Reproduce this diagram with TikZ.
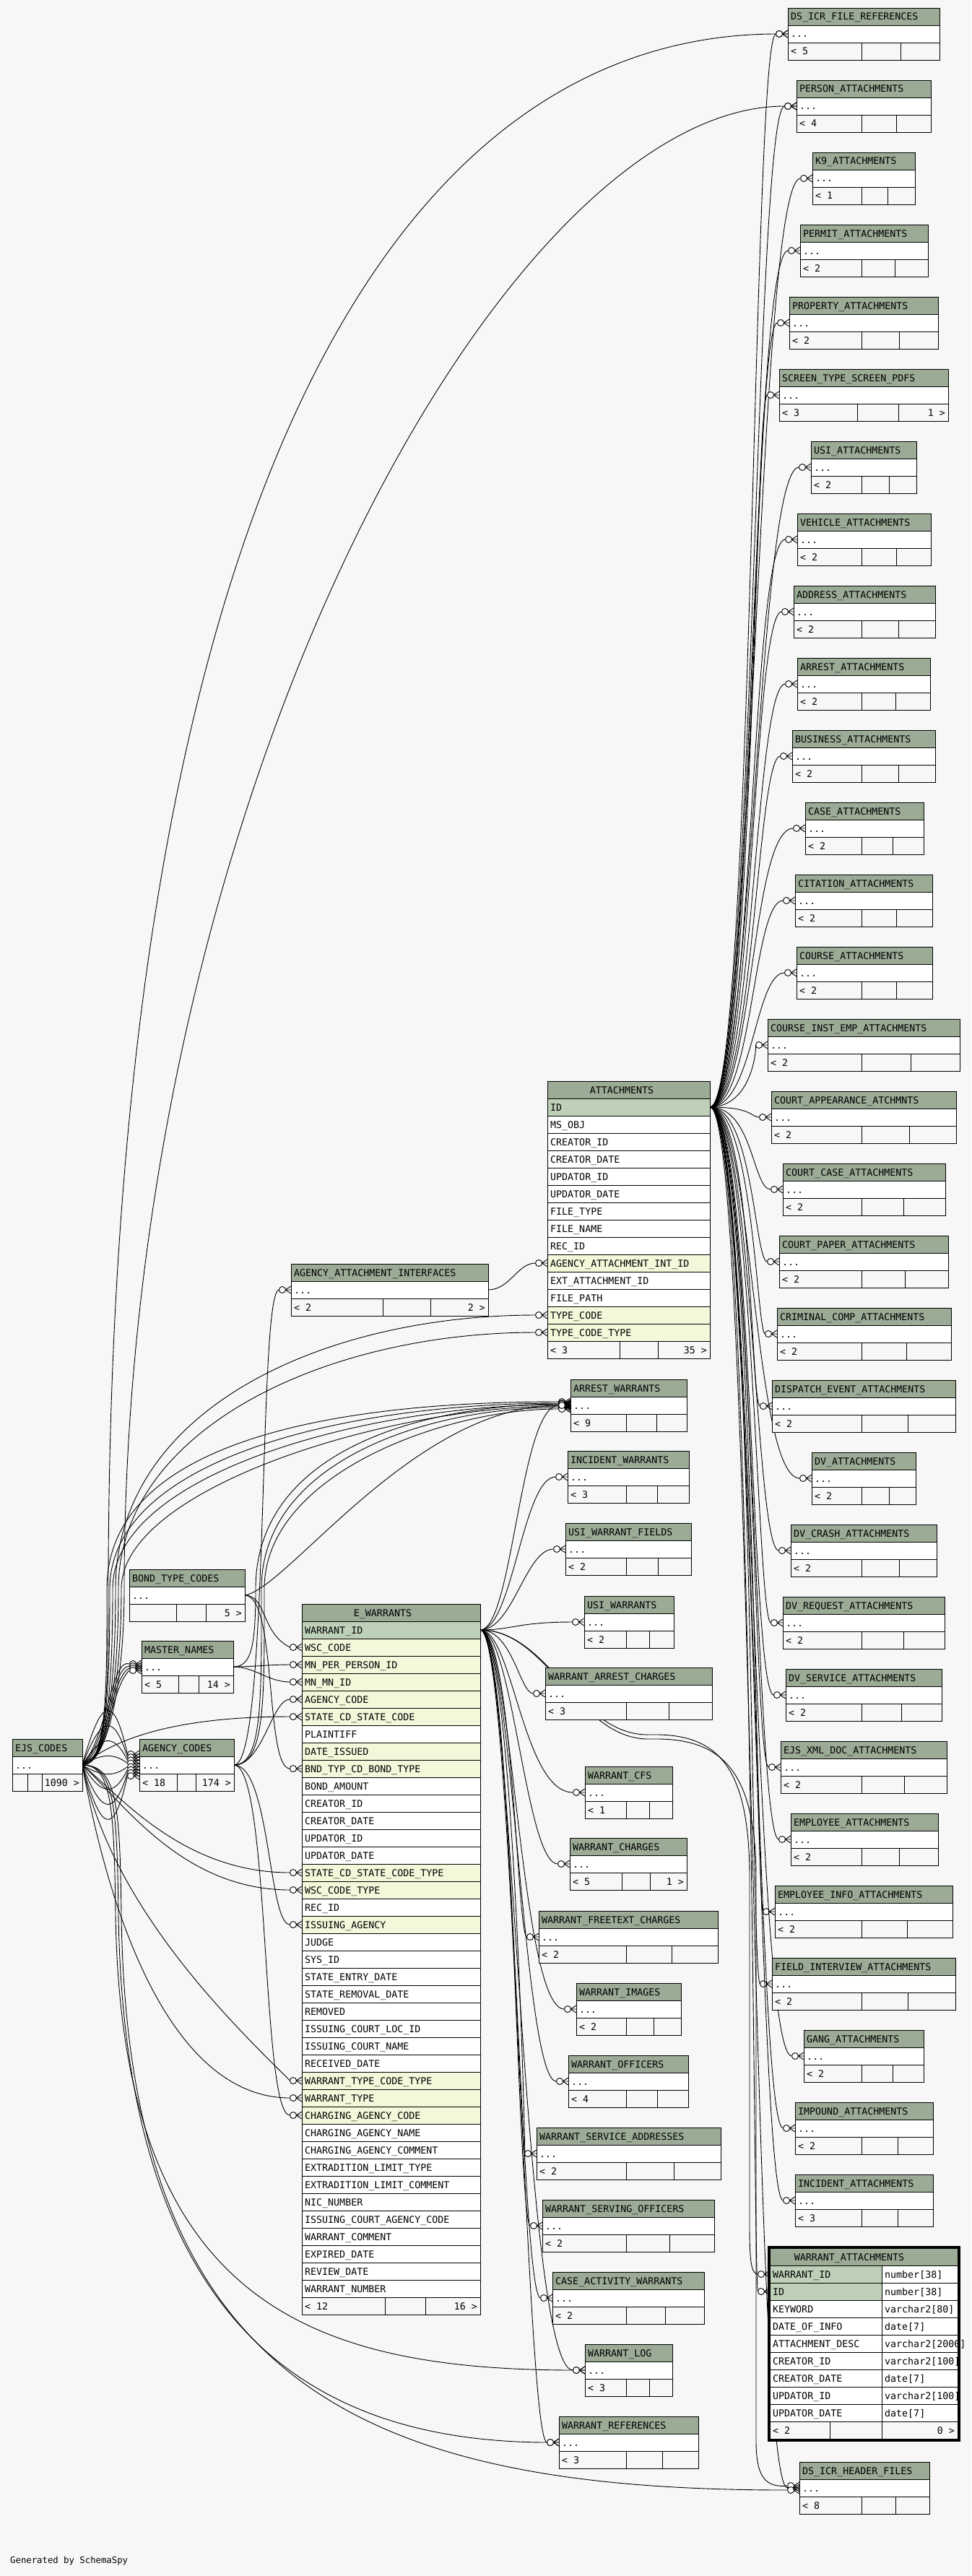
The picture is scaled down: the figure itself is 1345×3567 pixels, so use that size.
\documentclass[tikz,border=0pt]{standalone}
\usepackage{fontspec}
\newfontfamily\mono{DejaVu Sans Mono}
\usetikzlibrary{calc}
\pgfdeclarelayer{back}
\pgfdeclarelayer{edges}
\pgfsetlayers{back,edges,main}
\definecolor{bgc}{HTML}{F7F7F7}
\definecolor{hdrc}{HTML}{9BAB96}
\definecolor{pkc}{HTML}{BED1B8}
\definecolor{fkc}{HTML}{F4F7DA}
\catcode`\_=12
\tikzset{
 box/.style={draw, line width=0.9pt, inner sep=0pt, outer sep=0pt, minimum height=24pt, anchor=north west},
 lbl/.style={font=\mono\fontsize{13.3}{14}\selectfont, inner sep=0pt, anchor=base west},
 lblr/.style={lbl, anchor=base east},
 lblc/.style={lbl, anchor=base},
 ln/.style={line width=0.9pt},
}
% compact table: id, left, top, right, title, col1, col2, left footer, right footer
\newcommand\ctab[9]{%
 \pgfmathsetmacro\tw{#4-#2}%
 \node[box, fill=hdrc, minimum width=\tw pt] (#1-h) at (#2,#3) {};
 \node[box, fill=white, minimum width=\tw pt] (#1) at (#2,#3+24) {};
 \node[box, fill=bgc, minimum width=\tw pt] (#1-f) at (#2,#3+48) {};
 \draw[ln] (#6,#3+48) -- (#6,#3+72) (#7,#3+48) -- (#7,#3+72);
 \node[lbl] at (#2+4,#3+17) {#5};
 \node[lbl] at (#2+4,#3+41) {...};
 \node[lbl] at (#2+4,#3+65) {#8};
 \node[lblr] at (#4-4,#3+65) {#9};
}
% full table row: id, left, top, width, fill, text
\newcommand\frow[6]{%
 \node[box, fill=#5, minimum width=#4pt] (#1) at (#2,#3) {};
 \node[lbl] at (#2+4,#3+17) {#6};
}
% crow's foot with open circle at child row
\newcommand\mk[2][0]{%
 \begin{scope}[shift={([yshift=#1pt]#2.west)}]
  \draw[ln] (0,-5) -- (-8,0) -- (0,5) (0,0) -- (-8,0);
  \draw[ln, fill=white] (-12,0) circle[radius=4.5pt];
 \end{scope}}
% connector: [dy] parent-anchor, child, control1, control2
\newcommand\conn[5][0]{%
 \draw[ln] (#2) .. controls #4 and #5 .. ([xshift=-16.5pt,yshift=#1pt]#3.west);
 \mk[#1]{#3}}
% connector through the vertical bundle left of the code tables:
% [dy] parent, child, bundle x, ctrl y, ctrl2
\newcommand\lconn[6][0]{%
 \draw[ln] (#2) .. controls +(35,0) and (#4,2330) .. (#4,2200) .. controls (#4,#5) and #6 .. ([xshift=-16.5pt,yshift=#1pt]#3.west);
 \mk[#1]{#3}}
\begin{document}
\begin{tikzpicture}[x=1pt,y=-1pt]
\begin{pgfonlayer}{back}
\fill[bgc] (0,0) rectangle (1345,3567);
\end{pgfonlayer}
\useasboundingbox (0,0) rectangle (1345,3567);
\coordinate (busR) at (1043,0);
\coordinate (busM) at (722,0);

% ---------- right column ----------
\ctab{dsfr}{1091}{11}{1301}{DS_ICR_FILE_REFERENCES}{1193}{1247}{< 5}{}
\ctab{person}{1103}{111}{1289}{PERSON_ATTACHMENTS}{1193}{1241}{< 4}{}
\ctab{k9}{1125}{211}{1267}{K9_ATTACHMENTS}{1193}{1229}{< 1}{}
\ctab{permit}{1108}{311}{1285}{PERMIT_ATTACHMENTS}{1193}{1239}{< 2}{}
\ctab{property}{1093}{411}{1299}{PROPERTY_ATTACHMENTS}{1193}{1245}{< 2}{}
\ctab{screen}{1079}{511}{1313}{SCREEN_TYPE_SCREEN_PDFS}{1187}{1244}{< 3}{1 >}
\ctab{usia}{1123}{611}{1269}{USI_ATTACHMENTS}{1193}{1231}{< 2}{}
\ctab{vehicle}{1104}{711}{1289}{VEHICLE_ATTACHMENTS}{1193}{1241}{< 2}{}
\ctab{address}{1099}{811}{1295}{ADDRESS_ATTACHMENTS}{1193}{1244}{< 2}{}
\ctab{arrest}{1104}{911}{1288}{ARREST_ATTACHMENTS}{1193}{1240}{< 2}{}
\ctab{business}{1097}{1011}{1295}{BUSINESS_ATTACHMENTS}{1193}{1244}{< 2}{}
\ctab{casea}{1115}{1111}{1279}{CASE_ATTACHMENTS}{1193}{1236}{< 2}{}
\ctab{citation}{1101}{1211}{1291}{CITATION_ATTACHMENTS}{1193}{1241}{< 2}{}
\ctab{course}{1103}{1311}{1291}{COURSE_ATTACHMENTS}{1193}{1241}{< 2}{}
\ctab{courseinst}{1063}{1411}{1329}{COURSE_INST_EMP_ATTACHMENTS}{1193}{1261}{< 2}{}
\ctab{courtapp}{1068}{1511}{1324}{COURT_APPEARANCE_ATCHMNTS}{1193}{1259}{< 2}{}
\ctab{courtcase}{1084}{1611}{1309}{COURT_CASE_ATTACHMENTS}{1193}{1251}{< 2}{}
\ctab{courtpaper}{1079}{1711}{1313}{COURT_PAPER_ATTACHMENTS}{1193}{1253}{< 2}{}
\ctab{criminal}{1076}{1811}{1317}{CRIMINAL_COMP_ATTACHMENTS}{1193}{1255}{< 2}{}
\ctab{dispatch}{1069}{1911}{1323}{DISPATCH_EVENT_ATTACHMENTS}{1193}{1257}{< 2}{}
\ctab{dv}{1124}{2011}{1268}{DV_ATTACHMENTS}{1193}{1231}{< 2}{}
\ctab{dvcrash}{1095}{2111}{1297}{DV_CRASH_ATTACHMENTS}{1193}{1245}{< 2}{}
\ctab{dvreq}{1084}{2211}{1308}{DV_REQUEST_ATTACHMENTS}{1193}{1251}{< 2}{}
\ctab{dvserv}{1088}{2311}{1304}{DV_SERVICE_ATTACHMENTS}{1193}{1248}{< 2}{}
\ctab{ejsxml}{1081}{2411}{1311}{EJS_XML_DOC_ATTACHMENTS}{1193}{1252}{< 2}{}
\ctab{employee}{1095}{2511}{1299}{EMPLOYEE_ATTACHMENTS}{1193}{1245}{< 2}{}
\ctab{empinfo}{1073}{2611}{1319}{EMPLOYEE_INFO_ATTACHMENTS}{1193}{1256}{< 2}{}
\ctab{field}{1069}{2711}{1323}{FIELD_INTERVIEW_ATTACHMENTS}{1193}{1257}{< 2}{}
\ctab{gang}{1113}{2811}{1279}{GANG_ATTACHMENTS}{1193}{1236}{< 2}{}
\ctab{impound}{1101}{2911}{1292}{IMPOUND_ATTACHMENTS}{1193}{1243}{< 2}{}
\ctab{incident}{1101}{3011}{1292}{INCIDENT_ATTACHMENTS}{1193}{1243}{< 3}{}
\ctab{dshf}{1107}{3409}{1287}{DS_ICR_HEADER_FILES}{1193}{1240}{< 8}{}

% ---------- WARRANT_ATTACHMENTS (focus table) ----------
\node[box, fill=hdrc, minimum width=260pt] (wa-h) at (1066,3113) {};
\node[lblc] at (1176,3130) {WARRANT_ATTACHMENTS};
\foreach[count=\i] \rc/\rt/\ty in {pkc/WARRANT_ID/number[38], pkc/ID/number[38], white/KEYWORD/varchar2[80], white/DATE_OF_INFO/date[7], white/ATTACHMENT_DESC/varchar2[2000], white/CREATOR_ID/varchar2[100], white/CREATOR_DATE/date[7], white/UPDATOR_ID/varchar2[100], white/UPDATOR_DATE/date[7]}
 {\frow{wa-\i}{1066}{3113+24*\i}{155}{\rc}{\rt}
  \frow{wa-t\i}{1221}{3113+24*\i}{105}{white}{\ty}}
\node[box, fill=bgc, minimum width=260pt] (wa-f) at (1066,3353) {};
\draw[ln] (1149,3353) -- (1149,3377) (1221,3353) -- (1221,3377);
\node[lbl] at (1070,3370) {< 2};
\node[lblr] at (1322,3370) {0 >};
\draw[line width=3.5pt] (1064.25,3111.25) rectangle (1327.75,3378.75);

% ---------- ATTACHMENTS ----------
\node[box, fill=hdrc, minimum width=225pt] (att-h) at (758,1497) {};
\node[lblc] at (861,1514) {ATTACHMENTS};
\foreach[count=\i] \rc/\rt in {pkc/ID, white/MS_OBJ, white/CREATOR_ID, white/CREATOR_DATE, white/UPDATOR_ID, white/UPDATOR_DATE, white/FILE_TYPE, white/FILE_NAME, white/REC_ID, fkc/AGENCY_ATTACHMENT_INT_ID, white/EXT_ATTACHMENT_ID, white/FILE_PATH, fkc/TYPE_CODE, fkc/TYPE_CODE_TYPE}
 {\frow{att-\i}{758}{1497+24*\i}{225}{\rc}{\rt}}
\node[box, fill=bgc, minimum width=225pt] (att-f) at (758,1857) {};
\draw[ln] (858,1857) -- (858,1881) (911,1857) -- (911,1881);
\node[lbl] at (762,1874) {< 3};
\node[lblr] at (979,1874) {35 >};

% ---------- E_WARRANTS ----------
\node[box, fill=hdrc, minimum width=247pt] (ew-h) at (418,2221) {};
\node[lblc] at (530,2238) {E_WARRANTS};
\foreach[count=\i] \rc/\rt in {pkc/WARRANT_ID, fkc/WSC_CODE, fkc/MN_PER_PERSON_ID, fkc/MN_MN_ID, fkc/AGENCY_CODE, fkc/STATE_CD_STATE_CODE, white/PLAINTIFF, fkc/DATE_ISSUED, fkc/BND_TYP_CD_BOND_TYPE, white/BOND_AMOUNT, white/CREATOR_ID, white/CREATOR_DATE, white/UPDATOR_ID, white/UPDATOR_DATE, fkc/STATE_CD_STATE_CODE_TYPE, fkc/WSC_CODE_TYPE, white/REC_ID, fkc/ISSUING_AGENCY, white/JUDGE, white/SYS_ID, white/STATE_ENTRY_DATE, white/STATE_REMOVAL_DATE, white/REMOVED, white/ISSUING_COURT_LOC_ID, white/ISSUING_COURT_NAME, white/RECEIVED_DATE, fkc/WARRANT_TYPE_CODE_TYPE, fkc/WARRANT_TYPE, fkc/CHARGING_AGENCY_CODE, white/CHARGING_AGENCY_NAME, white/CHARGING_AGENCY_COMMENT, white/EXTRADITION_LIMIT_TYPE, white/EXTRADITION_LIMIT_COMMENT, white/NIC_NUMBER, white/ISSUING_COURT_AGENCY_CODE, white/WARRANT_COMMENT, white/EXPIRED_DATE, white/REVIEW_DATE, white/WARRANT_NUMBER}
 {\frow{ew-\i}{418}{2221+24*\i}{247}{\rc}{\rt}}
\node[box, fill=bgc, minimum width=247pt] (ew-f) at (418,3181) {};
\draw[ln] (533,3181) -- (533,3205) (589,3181) -- (589,3205);
\node[lbl] at (422,3198) {< 12};
\node[lblr] at (661,3198) {16 >};

% ---------- middle column ----------
\ctab{aai}{403}{1750}{676}{AGENCY_ATTACHMENT_INTERFACES}{530}{596}{< 2}{2 >}
\ctab{aw}{790}{1910}{951}{ARREST_WARRANTS}{867}{909}{< 9}{}
\ctab{iw}{786}{2009}{954}{INCIDENT_WARRANTS}{867}{910}{< 3}{}
\ctab{uwf}{783}{2109}{957}{USI_WARRANT_FIELDS}{867}{911}{< 2}{}
\ctab{uw}{809}{2210}{933}{USI_WARRANTS}{867}{899}{< 2}{}
\ctab{wac}{755}{2309}{986}{WARRANT_ARREST_CHARGES}{867}{926}{< 3}{}
\ctab{wcfs}{810}{2446}{931}{WARRANT_CFS}{867}{899}{< 1}{}
\ctab{wch}{789}{2545}{951}{WARRANT_CHARGES}{861}{900}{< 5}{1 >}
\ctab{wfc}{746}{2646}{994}{WARRANT_FREETEXT_CHARGES}{867}{930}{< 2}{}
\ctab{wi}{798}{2746}{943}{WARRANT_IMAGES}{867}{905}{< 2}{}
\ctab{wo}{787}{2846}{953}{WARRANT_OFFICERS}{867}{910}{< 4}{}
\ctab{wsa}{743}{2946}{998}{WARRANT_SERVICE_ADDRESSES}{867}{933}{< 2}{}
\ctab{wso}{751}{3046}{989}{WARRANT_SERVING_OFFICERS}{867}{927}{< 2}{}
\ctab{caw}{765}{3146}{975}{CASE_ACTIVITY_WARRANTS}{867}{921}{< 2}{}
\ctab{wl}{810}{3246}{931}{WARRANT_LOG}{867}{899}{< 3}{}
\ctab{wr}{774}{3346}{967}{WARRANT_REFERENCES}{867}{917}{< 3}{}

% ---------- left column ----------
\ctab{btc}{179}{2173}{339}{BOND_TYPE_CODES}{244}{285}{}{5 >}
\ctab{mn}{196}{2272}{323}{MASTER_NAMES}{247}{275}{< 5}{14 >}
\ctab{ejs}{17}{2408}{114}{EJS_CODES}{38}{58}{}{1090 >}
\ctab{agc}{193}{2408}{324}{AGENCY_CODES}{245}{271}{< 18}{174 >}

\node[lbl, font=\mono\fontsize{12.3}{13}\selectfont] (gen) at (14,3549) {Generated by SchemaSpy};

% ---------- connectors ----------
\begin{pgfonlayer}{edges}
% ATTACHMENTS.ID children
\foreach[count=\i] \c in {dsfr,person,k9,permit,property,screen,usia,vehicle,address,arrest,business,casea,citation,course,courseinst,courtapp,courtcase,courtpaper,criminal,dispatch,dv,dvcrash,dvreq,dvserv,ejsxml,employee,empinfo,field,gang,impound,incident,dshf}
 {\pgfmathsetmacro\ox{mod(\i,4)*3-4}\conn{att-1.east}{\c}{+(60,0)}{([xshift=\ox pt]\c.west -| busR)}}
\conn{att-1.east}{wa-2}{+(60,0)}{(wa-2.west -| busR)}
% E_WARRANTS.WARRANT_ID children
\foreach[count=\i] \c in {aw,iw,uwf,uw,wac,wcfs,wch,wfc,wi,wo,wsa,wso,caw,wl,wr}
 {\pgfmathsetmacro\ox{mod(\i,4)*4-6}\conn{ew-1.east}{\c}{+(45,0)}{([xshift=\ox pt]\c.west -| busM)}}
\draw[ln] (ew-1.east) .. controls (760,2257) and (800,2405) .. (900,2402) .. controls (990,2400) and (1038,2440) .. (1038,2600) -- (1038,3080) .. controls (1038,3130) and (1040,3149) .. ([xshift=-16.5pt]wa-1.west);
\mk{wa-1}
\draw[ln] (ew-1.east) .. controls (760,2257) and (800,2410) .. (900,2408) .. controls (990,2406) and (1047,2440) .. (1047,2600) -- (1047,3380) .. controls (1047,3430) and (1060,3445) .. ([xshift=-16.5pt,yshift=3pt]dshf.west);
\mk[3]{dshf}
% EJS_CODES -> AGENCY_CODES
\foreach \k in {-90,-65,-40,-15,15,40,65,90}
 {\pgfmathsetmacro\dy{-\k/6}\conn[\dy]{ejs.east}{agc}{+(25,\k)}{+(-20,\k)}}
% EJS_CODES -> MASTER_NAMES
\foreach \k/\dy in {-10/4,0/1,10/-2,20/-5}
 {\conn[\dy]{ejs.east}{mn}{+(35,\k-30)}{+(-25,\k)}}
% EJS_CODES -> E_WARRANTS
\conn{ejs.east}{ew-6}{+(50,-40)}{+(-150,0)}
\conn{ejs.east}{ew-15}{+(50,40)}{+(-150,0)}
\conn{ejs.east}{ew-16}{+(55,50)}{+(-150,0)}
\conn{ejs.east}{ew-27}{+(40,200)}{+(-70,-70)}
\conn{ejs.east}{ew-28}{+(45,250)}{+(-150,0)}
% EJS_CODES -> ATTACHMENTS, through the left bundle
\lconn{ejs.east}{att-13}{160}{1950}{(450,1821)}
\lconn{ejs.east}{att-14}{164}{1980}{(450,1845)}
% -> ARREST_WARRANTS
\lconn[5]{ejs.east}{aw}{148}{2000}{(450,1941)}
\lconn[3]{ejs.east}{aw}{152}{2020}{(480,1943)}
\lconn[1]{ejs.east}{aw}{156}{2040}{(510,1945)}
\lconn[-1]{ejs.east}{aw}{168}{2060}{(540,1947)}
\draw[ln] (agc.east) .. controls +(40,0) and (362,2350) .. (362,2200) .. controls (362,2020) and (600,1948) .. ([xshift=-16.5pt,yshift=-3pt]aw.west);
\mk[-3]{aw}
\draw[ln] (agc.east) .. controls +(44,0) and (366,2350) .. (366,2200) .. controls (366,2040) and (620,1950) .. ([xshift=-16.5pt,yshift=-5pt]aw.west);
\mk[-5]{aw}
\draw[ln] (mn.east) .. controls +(25,0) and (354,2280) .. (354,2200) .. controls (354,2010) and (580,1946) .. ([xshift=-16.5pt,yshift=2pt]aw.west);
\mk[2]{aw}
\conn{btc.east}{aw}{+(60,-10)}{+(-200,0)}
% BOND_TYPE_CODES -> E_WARRANTS
\conn{btc.east}{ew-2}{+(30,0)}{+(-40,-20)}
\conn{btc.east}{ew-9}{+(45,0)}{+(-35,0)}
% MASTER_NAMES -> E_WARRANTS
\conn{mn.east}{ew-3}{+(30,0)}{+(-30,0)}
\conn{mn.east}{ew-4}{+(30,0)}{+(-30,0)}
% AGENCY_CODES -> E_WARRANTS, AGENCY_ATTACHMENT_INTERFACES
\conn{agc.east}{ew-5}{+(40,0)}{+(-25,0)}
\conn{agc.east}{ew-18}{+(50,0)}{+(-30,0)}
\conn{agc.east}{ew-29}{+(50,0)}{+(-40,0)}
\conn{agc.east}{aai}{+(50,0)}{+(-30,0)}
% AGENCY_ATTACHMENT_INTERFACES -> ATTACHMENTS
\conn{aai.east}{att-10}{+(30,0)}{+(-25,0)}
% long edges to the bottom, left of and below E_WARRANTS
\draw[ln] (ejs.east) .. controls +(40,0) and (158,2500) .. (160,2650) .. controls (168,3190) and (430,3281) .. ([xshift=-16.5pt]wl.west);
\mk{wl}
\draw[ln] (ejs.east) .. controls +(44,0) and (162,2500) .. (164,2650) .. controls (172,3220) and (430,3381) .. ([xshift=-16.5pt]wr.west);
\mk{wr}
\draw[ln] (ejs.east) .. controls +(48,0) and (166,2500) .. (168,2650) .. controls (176,3300) and (500,3448) .. ([xshift=-16.5pt,yshift=-3pt]dshf.west);
\mk[-3]{dshf}
% long edges to the top
\lconn{ejs.east}{dsfr}{150}{800}{(500,49)}
\lconn{ejs.east}{person}{172}{1100}{(700,147)}
\end{pgfonlayer}
\end{tikzpicture}
\end{document}
